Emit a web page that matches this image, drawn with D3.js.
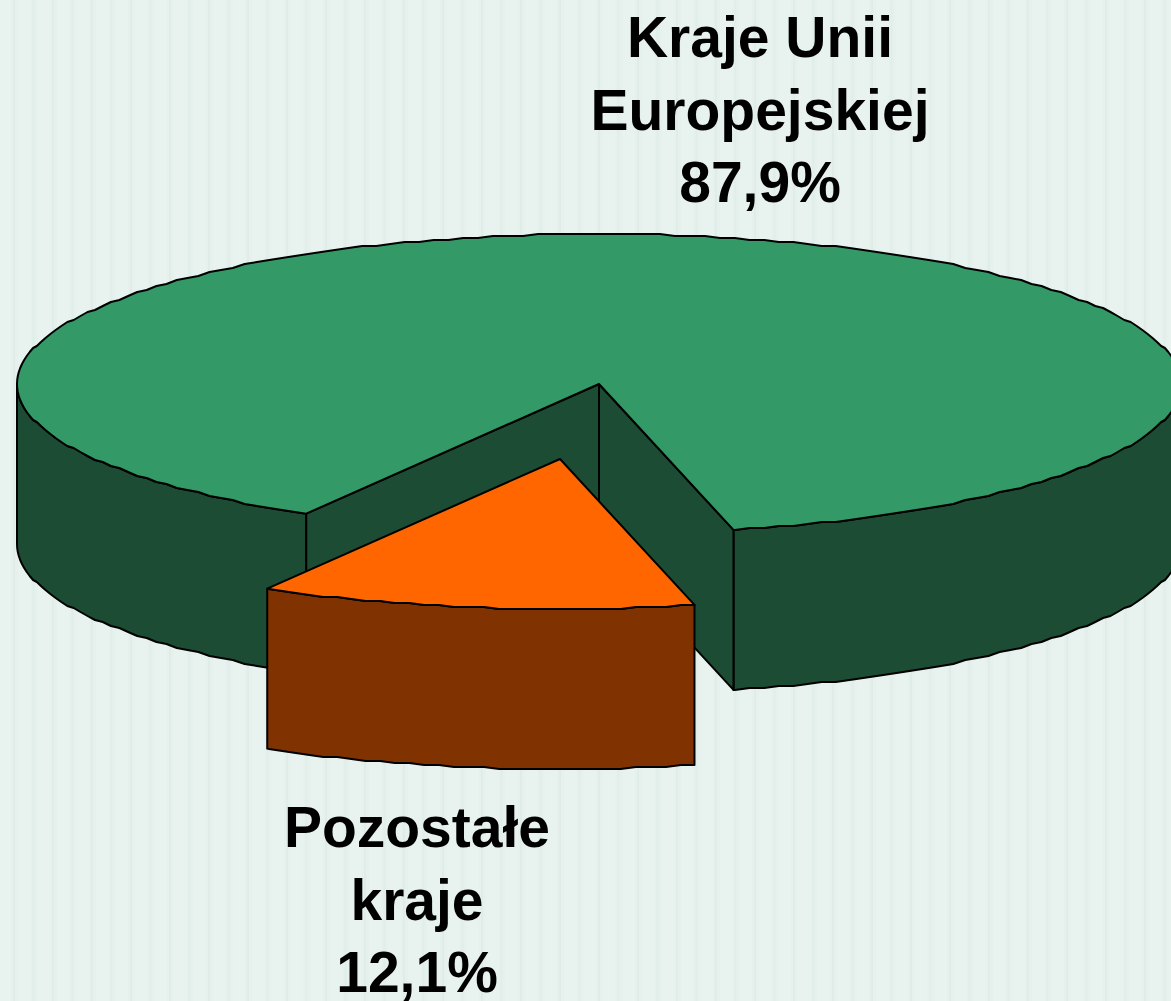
<!DOCTYPE html>
<html>
<head>
<meta charset="utf-8">
<script src="https://cdn.jsdelivr.net/npm/d3@7"></script>
<style>
html, body { margin: 0; padding: 0; background: #e8f3ef; overflow: hidden; }
text { font-family: "Liberation Sans", Arial, sans-serif; font-weight: bold; fill: #000; }
</style>
</head>
<body>
<script>
var categories = ["Kraje Unii Europejskiej", "Pozostałe kraje"];
var shares = [87.9, 12.1];
var share_labels = [["Kraje Unii", "Europejskiej", "87,9%"], ["Pozostałe", "kraje", "12,1%"]];
var slice_colors = ["#339966", "#ff6600"];
var side_colors = ["#1c4c33", "#803300"];

var width = 1171, height = 1001;
var cx = 599, cy = 384, rx = 582, ry = 150, depth = 160;
var explode = { x: -39, y: 75 };

var svg = d3.select("body").append("svg")
    .attr("width", width)
    .attr("height", height)
    .style("display", "block");

// faint vertical stripes of the slide background
var stripes = d3.range(14, width, 19.5);
svg.append("rect").attr("width", width).attr("height", height).attr("fill", "#e8f3ef");
var stripe_g = svg.append("g");
stripe_g.selectAll(".soft")
    .data(stripes)
    .enter().append("rect")
    .attr("class", "soft")
    .attr("x", function(d) { return d - 3; })
    .attr("width", 7)
    .attr("height", height)
    .attr("fill", "#e1eee9")
    .attr("opacity", 0.3);
stripe_g.selectAll(".hard")
    .data(stripes)
    .enter().append("rect")
    .attr("class", "hard")
    .attr("x", function(d) { return d - 1; })
    .attr("width", 2)
    .attr("height", height)
    .attr("fill", "#dce9e4")
    .attr("opacity", function(d, i) { return i % 2 == 0 ? 0.7 : 0.45; });

// unit circle to screen, flattened
var px = d3.scaleLinear().domain([-1, 1]).range([cx - rx, cx + rx]);
var py = d3.scaleLinear().domain([-1, 1]).range([cy - ry, cy + ry]);

var pie = d3.pie()
    .sort(null)
    .startAngle(210.2 * Math.PI / 180)
    .endAngle((210.2 + 360) * Math.PI / 180)
    .value(function(d) { return d; });
var slices = pie(shares);

// the original has slightly jagged edges, a coarse grid gives the same look
function snap(v, s) { return Math.round(v / s) * s; }

var step = Math.PI / 120;

function point(a) {
    return [px(Math.sin(a)), py(-Math.cos(a))];
}

// same angle grid for every rim so top face and walls line up
function rim(a0, a1) {
    var pts = [point(a0)];
    var k = Math.floor(a0 / step + 1e-6) + 1;
    for (; k * step < a1 - 1e-6; k++) {
        var p = point(k * step);
        pts.push([p[0], snap(p[1], 2)]);
    }
    pts.push(point(a1));
    return pts;
}

var line = d3.line();

function drawPoly(g, pts, fill) {
    g.append("path")
        .attr("d", line(pts) + "Z")
        .attr("fill", fill)
        .attr("stroke", "#000")
        .attr("stroke-width", 2)
        .attr("stroke-linejoin", "round");
}

function down(pts) {
    return pts.map(function(p) { return [p[0], p[1] + depth]; });
}

function outerWall(g, a0, a1, fill) {
    var top = rim(a0, a1);
    drawPoly(g, top.concat(down(top).reverse()), fill);
}

function cutWall(g, a, fill) {
    var c = [px(0), py(0)], e = point(a);
    drawPoly(g, [c, e, [e[0], e[1] + depth], [c[0], c[1] + depth]], fill);
}

var green = slices[0], orange = slices[1];
var g_green = svg.append("g");

// green slice: walls first, then top face
outerWall(g_green, green.startAngle, 1.5 * Math.PI, side_colors[0]);
outerWall(g_green, 2.5 * Math.PI, green.endAngle, side_colors[0]);
cutWall(g_green, green.startAngle, side_colors[0]);
cutWall(g_green, green.endAngle, side_colors[0]);
drawPoly(g_green, [[px(0), py(0)]].concat(rim(green.startAngle, green.endAngle)), slice_colors[0]);

// orange slice pulled out of the pie
var g_orange = svg.append("g")
    .attr("transform", "translate(" + explode.x + "," + explode.y + ")");
outerWall(g_orange, orange.startAngle, orange.endAngle, side_colors[1]);
drawPoly(g_orange, [[px(0), py(0)]].concat(rim(orange.startAngle, orange.endAngle)), slice_colors[1]);

var label_pos = [{ x: 760, y: 57 }, { x: 417, y: 847 }];
var line_gap = 72.5;
share_labels.forEach(function(rows, i) {
    svg.append("g").selectAll("text")
        .data(rows)
        .enter().append("text")
        .attr("x", label_pos[i].x)
        .attr("y", function(d, j) { return label_pos[i].y + j * line_gap; })
        .attr("font-size", 57)
        .attr("text-anchor", "middle")
        .text(function(d) { return d; });
});
</script>
</body>
</html>
